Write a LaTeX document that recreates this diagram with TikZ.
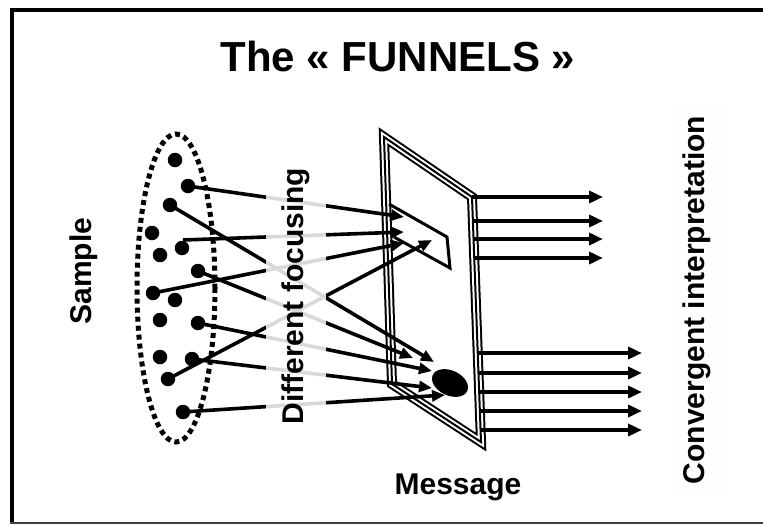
\documentclass[tikz,border=0pt]{standalone}
\usepackage{fontspec}
\setmainfont{Liberation Sans}
\usetikzlibrary{arrows.meta,shapes.geometric}

\begin{document}
\begin{tikzpicture}[x=1pt,y=-1pt,
  dot/.style={circle,fill=black,inner sep=0pt,minimum size=14.5pt},
  ray/.style={line width=3.6pt,-{Triangle[length=13pt,width=11pt]}},
  outray/.style={line width=3.6pt,-{Triangle[length=14pt,width=12pt]}},
  lbl/.style={font=\fontsize{30}{36}\selectfont\bfseries,inner sep=0pt},
  plateline/.style={line join=miter}
]
% canvas and frame
\useasboundingbox (0,0) rectangle (763,525);
\fill[white] (0,0) rectangle (763,525);
\draw[line width=3.5pt] (10,10) -- (763,10);
\draw[line width=4pt] (12,8.3) -- (12,523);
\draw[line width=1.5pt,black!75] (10,523) -- (763,523);

% title
\node[font=\fontsize{42}{48}\selectfont\bfseries,inner sep=0pt] (title) at (398,56) {The « FUNNELS »};

% sample cloud
\draw[line width=5pt,dash pattern=on 5pt off 4pt] (176,288) ellipse [x radius=39,y radius=154];
\node[dot] (d1) at (175,160) {};
\node[dot] (d2) at (188,186) {};
\node[dot] (d3) at (170,205) {};
\node[dot] (d4) at (152,233) {};
\node[dot] (d5) at (182,248) {};
\node[dot] (d6) at (160,255) {};
\node[dot] (d7) at (198,271) {};
\node[dot] (d8) at (153,293) {};
\node[dot] (d9) at (175,300) {};
\node[dot] (d10) at (160,320) {};
\node[dot] (d11) at (198,323) {};
\node[dot] (d12) at (160,357) {};
\node[dot] (d13) at (192,359) {};
\node[dot] (d14) at (168,379) {};
\node[dot] (d15) at (183,412) {};
\coordinate (s5) at (183,240);

% the message plate (triple outline)
\coordinate (p1) at (384,137);
\coordinate (p2) at (472,197);
\coordinate (p3) at (481,442);
\coordinate (p4) at (392,384);
\draw[plateline,line width=10pt] (p1) -- (p2) -- (p3) -- (p4) -- cycle;
\draw[plateline,line width=6pt,white] (p1) -- (p2) -- (p3) -- (p4) -- cycle;
\draw[plateline,line width=2pt] (p1) -- (p2) -- (p3) -- (p4) -- cycle;

% targets on the plate
\draw[line width=3pt,line join=miter] (389,204) -- (447,237) -- (450,268) -- (394,237);
\node[ellipse,fill=black,inner sep=0pt,minimum width=38pt,minimum height=25pt,rotate=-25] (spot) at (450,383) {};

% arrow ends
\coordinate (u1) at (404,217);
\coordinate (u2) at (404,232);
\coordinate (u3) at (404,243);
\coordinate (u4) at (432,240);
\coordinate (l1) at (413,358);
\coordinate (l2) at (434,362);
\coordinate (l3) at (432,371);
\coordinate (l4) at (432,388);
\coordinate (l5) at (445,395);

% rays from the sample
\draw[ray] (d2.center) -- (u1);
\draw[ray] (s5) -- (u2);
\draw[ray] (d8.center) -- (u3);
\draw[ray] (d14.center) -- (u4);
\draw[ray] (d3.center) -- (l2);
\draw[ray] (d7.center) -- (l1);
\draw[ray] (d11.center) -- (l3);
\draw[ray] (d13.center) -- (l4);
\draw[ray] (d15.center) -- (l5);

% outgoing arrows
\foreach \y/\n in {197/a,221/b,239/c,258/d}{
  \coordinate (o\n) at ({472+(\y-197)*9/245},\y);
  \coordinate (e\n) at (603,\y);
  \draw[outray] (o\n) -- (e\n);
}
\foreach \y/\n in {353/f,373/g,392/h,411/i,430/j}{
  \coordinate (o\n) at ({472+(\y-197)*9/245},\y);
  \coordinate (e\n) at (642,\y);
  \draw[outray] (o\n) -- (e\n);
}

% labels
\node[lbl,rotate=90] (sample) at (84,271) {Sample};
\node[lbl,rotate=90,fill=white,fill opacity=0.85,text opacity=1,
      inner xsep=17pt,inner ysep=16pt] (focus) at (296,296) {Different focusing};
\node[lbl] (message) at (458,487) {Message};
\node[lbl,rotate=90,fill=white!99.5!black,inner xsep=12pt,inner ysep=12pt] (conv) at (697,300) {Convergent interpretation};
\end{tikzpicture}
\end{document}
